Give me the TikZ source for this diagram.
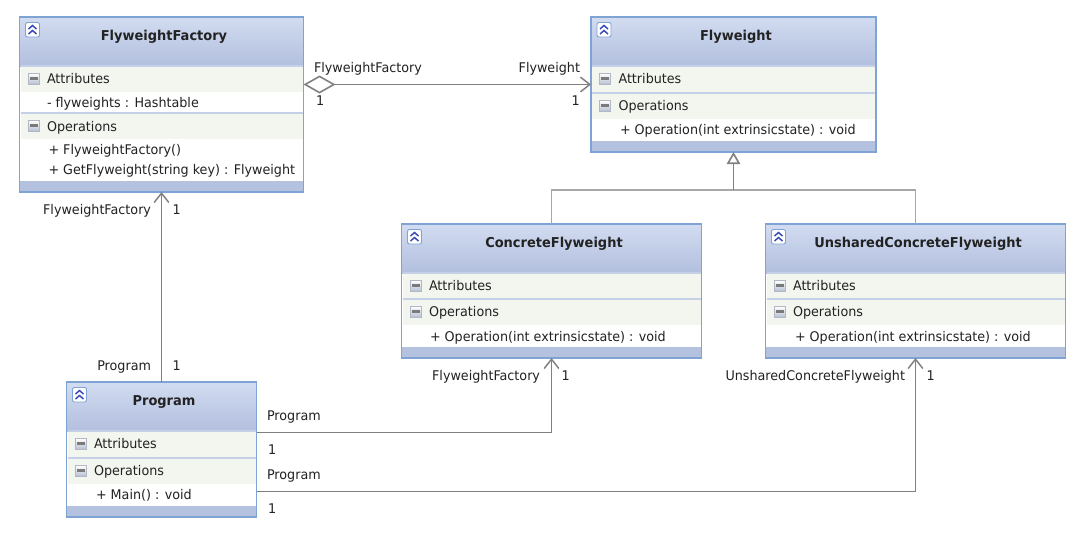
\documentclass[tikz,border=0pt]{standalone}
\usepackage{fontspec}
\setmainfont{DejaVu Sans}[FakeStretch=0.955]
\usetikzlibrary{arrows.meta,shadings}
\definecolor{hdtop}{HTML}{D2DCF1}
\definecolor{hdbot}{HTML}{B2BFDE}
\definecolor{band}{HTML}{B5C2DF}
\definecolor{edge}{HTML}{7FA3D3}
\definecolor{strip}{HTML}{F3F6EF}
\definecolor{sepc}{HTML}{C5D0E6}
\definecolor{ink}{HTML}{222222}
\definecolor{conn}{HTML}{808080}
\definecolor{connl}{HTML}{A8A8A8}
\newcounter{txt}
\tikzset{
  classbox/.style={draw=none,fill=white,inner sep=0pt,outer sep=0pt,anchor=north west},
  outline/.style={draw=edge,line width=1pt},
  txtstyle/.style={inner sep=0pt,outer sep=0pt,anchor=base west,text=ink,font=\fontsize{10pt}{12pt}\selectfont},
  ttl/.style={inner sep=0pt,outer sep=0pt,anchor=base,text=ink,font=\fontsize{10.2pt}{12pt}\selectfont\bfseries},
  lab/.style={txtstyle},
  labr/.style={txtstyle,anchor=base east},
  assoc/.style={draw=conn,line width=0.8pt,-{Straight Barb[length=7pt,width=11pt,line width=1.1pt]}},
  aggr/.style={draw=conn,line width=0.8pt,{Diamond[open,length=24pt,width=13.5pt,line width=1.2pt,fill=white]}-{Straight Barb[length=7pt,width=11pt,line width=1.1pt]}},
  gen/.style={draw=connl,line width=0.9pt},
  genhead/.style={draw=conn,line width=0.9pt,-{Triangle[open,length=9pt,width=10pt,line width=1.2pt,fill=white]}},
}
% id, x, y, w, h, title
\newcommand\umlbox[6]{%
  \def\uw{#4}\def\uh{#5}\def\ux{#2}\def\uy{#3}%
  \node[classbox,minimum width=#4*0.75pt,minimum height=#5*0.75pt] (#1) at (#2,#3) {};
  \begin{scope}[shift={(#2,#3)}]
    \shade[top color=hdtop,bottom color=hdbot] (0,0) rectangle (#4,49);
    \fill[band] (0,#5-11) rectangle (#4,#5);
    \node[ttl] (#1-title) at ({#4/2+2.5},23.7) {#6};
    \draw[draw=edge,fill=white,line width=0.7pt,rounded corners=1.5pt] (6,5.5) rectangle (20,20);
    \draw[draw=edge!55!blue!80!black,line width=1.1pt] (9,12) -- (13,8.5) -- (17,12) (9,17) -- (13,13.5) -- (17,17);
  \end{scope}
}
% y offset, baseline offset, label
\newcommand\umlsect[3]{%
  \begin{scope}[shift={(\ux,\uy)}]
    \fill[strip] (1,#1) rectangle (\uw-1,#1+26);
    \draw[sepc,line width=0.8pt] (1,#1) -- (\uw-1,#1);
    \shade[top color=white,bottom color=sepc!80!gray,draw=sepc!70!gray,line width=0.4pt] (8.5,#1+7.5) rectangle (19.5,#1+18);
    \fill[ink!60] (10,#1+11.3) rectangle (18,#1+14.2);
    \stepcounter{txt}
    \node[lab] (t\arabic{txt}) at (27.5,#2) {#3};
  \end{scope}
}
\newcommand\umlitem[3]{%
  \stepcounter{txt}
  \node[lab] (t\arabic{txt}) at (\ux+#1,\uy+#2) {#3};
}
\newcommand\umlclose[1]{\draw[outline] (#1.north west) rectangle (#1.south east);}
\newcommand\conlabel[4]{%
  \stepcounter{txt}
  \node[#1] (t\arabic{txt}) at (#2,#3) {#4};
}
\begin{document}
\begin{tikzpicture}[x=0.75pt,y=-0.75pt]
\useasboundingbox (0,0) rectangle (1088,540);
\fill[white] (0,0) rectangle (1088,540);

\umlbox{ff}{19.5}{17}{284}{175}{FlyweightFactory}
\umlsect{49}{66}{Attributes}
\umlitem{27.5}{90}{- flyweights : Hashtable}
\umlsect{96}{114}{Operations}
\umlitem{29}{137}{+ FlyweightFactory()}
\umlitem{29}{157}{+ GetFlyweight(string key) : Flyweight}
\umlclose{ff}

\umlbox{fw}{591}{17}{285}{135}{Flyweight}
\umlsect{49}{66}{Attributes}
\umlsect{76}{93}{Operations}
\umlitem{29}{117}{+ Operation(int extrinsicstate) : void}
\umlclose{fw}

\umlbox{cf}{401.5}{224}{300}{134}{ConcreteFlyweight}
\umlsect{49}{66}{Attributes}
\umlsect{75}{92.5}{Operations}
\umlitem{28.5}{117}{+ Operation(int extrinsicstate) : void}
\umlclose{cf}

\umlbox{uf}{765.5}{224}{300}{134}{UnsharedConcreteFlyweight}
\umlsect{49}{66}{Attributes}
\umlsect{75}{92.5}{Operations}
\umlitem{29.5}{117}{+ Operation(int extrinsicstate) : void}
\umlclose{uf}

\umlbox{pg}{66.5}{382}{190}{135}{Program}
\umlsect{49}{66}{Attributes}
\umlsect{76}{93}{Operations}
\umlitem{29.5}{117}{+ Main() : void}
\umlclose{pg}

% connectors
\coordinate (junction) at (fw.south |- 0,190);
\draw[aggr] ([yshift=15pt]ff.east) -- (fw.west);
\draw[assoc] (pg.north) -- (ff.south);
\draw[assoc] ([yshift=12.75pt]pg.east) -| (cf.south);
\draw[assoc] ([yshift=-31.5pt]pg.east) -| (uf.south);
\draw[gen] (cf.north) |- (junction);
\draw[gen] (uf.north) |- (junction);
\draw[genhead] (junction) -- (fw.south);

% connector labels
\conlabel{lab}{314}{72}{FlyweightFactory}
\conlabel{lab}{316}{105}{1}
\conlabel{labr}{580}{72}{Flyweight}
\conlabel{lab}{571.5}{105}{1}
\conlabel{labr}{151}{214}{FlyweightFactory}
\conlabel{lab}{172.5}{214}{1}
\conlabel{labr}{151}{370}{Program}
\conlabel{lab}{172.5}{370}{1}
\conlabel{labr}{540}{380}{FlyweightFactory}
\conlabel{lab}{561.5}{380}{1}
\conlabel{labr}{905}{380}{UnsharedConcreteFlyweight}
\conlabel{lab}{926.5}{380}{1}
\conlabel{lab}{267}{420}{Program}
\conlabel{lab}{268}{454}{1}
\conlabel{lab}{267}{479}{Program}
\conlabel{lab}{268}{513}{1}
\end{tikzpicture}
\end{document}
